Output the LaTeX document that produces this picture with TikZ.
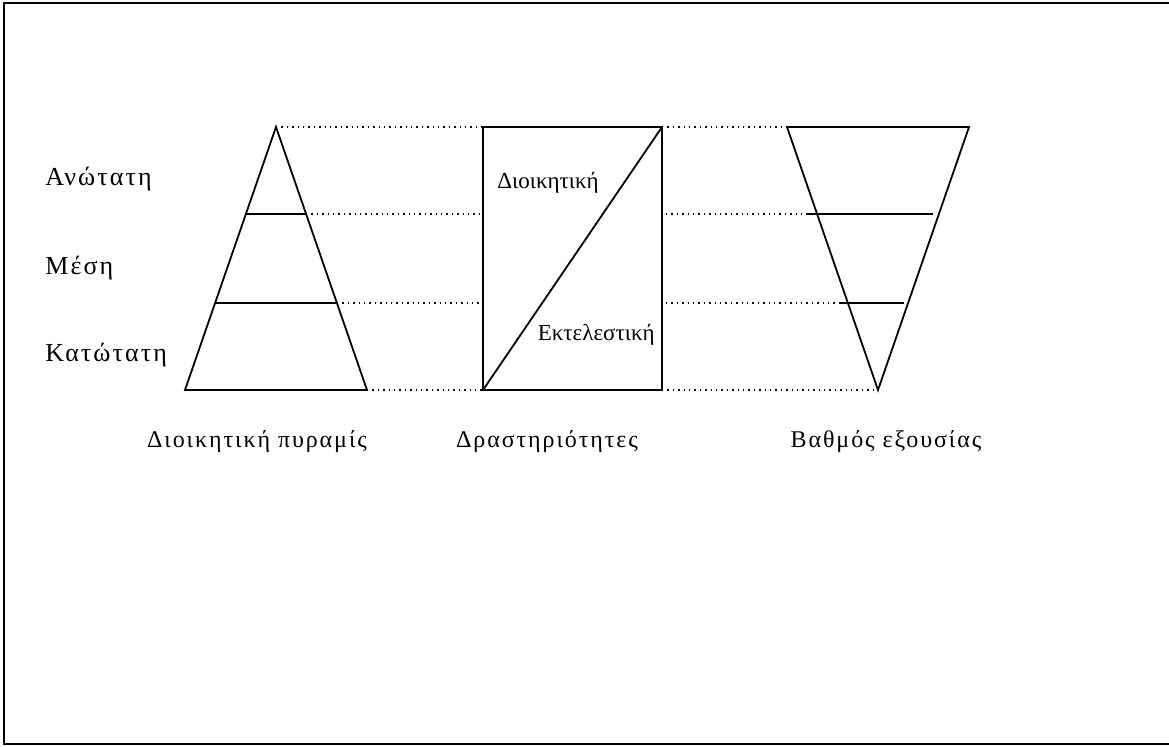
\documentclass[tikz,border=0pt]{standalone}
\usepackage{fontspec}
\setmainfont{Liberation Serif}
\newfontfamily\spacedfont[LetterSpace=8]{Liberation Serif}
\usepackage{tikz}
\usetikzlibrary{positioning}

\tikzset{
  shape line/.style={line width=0.9pt, line join=miter},
  level line/.style={line width=0.9pt},
  guide line/.style={line width=0.7pt, dotted},
  level label/.style={font=\spacedfont\fontsize{13}{15}\selectfont, anchor=west, inner sep=0pt},
  caption label/.style={font=\spacedfont\fontsize{12}{14}\selectfont, inner sep=0pt},
  box label/.style={font=\fontsize{11.5}{13}\selectfont, inner sep=0pt},
}

\begin{document}
\begin{tikzpicture}[x=0.5pt, y=-0.5pt]
  \useasboundingbox (0,0) rectangle (1169,746);
  % Frame
  \draw[line width=1.4pt] (1172,3) -- (4,3) -- (4,744) -- (1172,744);

  % Pyramid
  \coordinate (pyrtop) at (276,127);
  \coordinate (pyrbl) at (185,390);
  \coordinate (pyrbr) at (367,390);
  \draw[shape line] (pyrbl) -- (pyrtop) -- (pyrbr) -- cycle;
  \coordinate (pyrupl) at (246,214);
  \coordinate (pyrupr) at (306,214);
  \coordinate (pyrlol) at (216,303);
  \coordinate (pyrlor) at (337,303);
  \draw[level line] (pyrupl) -- (pyrupr);
  \draw[level line] (pyrlol) -- (pyrlor);

  % Activities box
  \coordinate (boxbl) at (483,390);
  \coordinate (boxtr) at (662,127);
  \draw[shape line] (boxbl) rectangle (boxtr);
  \draw[shape line] (boxbl) -- (boxtr);
  \coordinate (boxtl) at (483,127);
  \coordinate (boxupl) at (483,214);
  \coordinate (boxlol) at (483,303);
  \coordinate (boxupr) at (666,214);
  \coordinate (boxlor) at (666,303);
  \coordinate (boxbr) at (662,390);
  \node[box label, anchor=west] (admin) at (497,183) {Διοικητική};
  \node[box label, anchor=east] (exec) at (655,335) {Εκτελεστική};

  % Authority (inverted triangle)
  \coordinate (invtl) at (787,127);
  \coordinate (invtr) at (969,127);
  \coordinate (invbot) at (878,390);
  \draw[shape line] (invtl) -- (invtr) -- (invbot) -- cycle;
  \coordinate (invupl) at (808,214);
  \coordinate (invupr) at (933,214);
  \coordinate (invlol) at (840,303);
  \coordinate (invlor) at (904,303);
  \draw[level line] (invupl) -- (invupr);
  \draw[level line] (invlol) -- (invlor);

  % Dotted guides
  \draw[guide line] (pyrtop) -- (boxtl);
  \draw[guide line] (pyrupr) -- (boxupl);
  \draw[guide line] (pyrlor) -- (boxlol);
  \draw[guide line] (pyrbr) -- (boxbl);
  \draw[guide line] (boxtr) -- (invtl);
  \draw[guide line] (boxupr) -- (invupl);
  \draw[guide line] (boxlor) -- (invlol);
  \draw[guide line] (boxbr) -- (invbot);

  % Levels
  \node[level label] (top) at (45,179) {Ανώτατη};
  \node[level label] (middle) at (45,268) {Μέση};
  \node[level label] (bottom) at (45,355) {Κατώτατη};

  % Captions
  \node[caption label] (pyrcap) at (257,442) {Διοικητική πυραμίς};
  \node[caption label] (actcap) at (547,442) {Δραστηριότητες};
  \node[caption label] (authcap) at (886,442) {Βαθμός εξουσίας};
\end{tikzpicture}
\end{document}
